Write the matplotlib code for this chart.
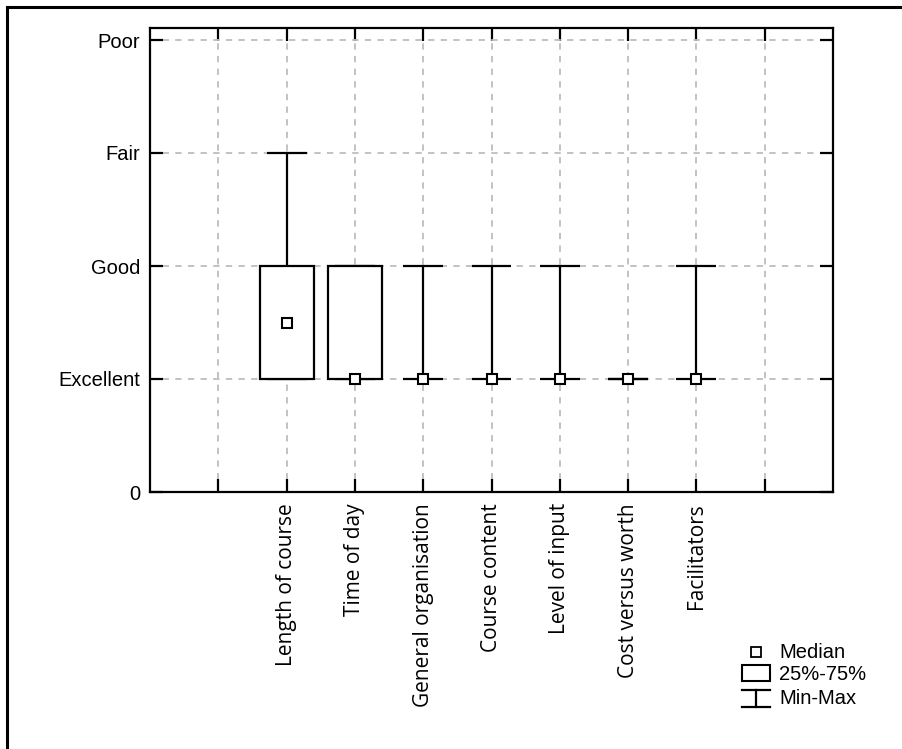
import matplotlib
matplotlib.use("Agg")
import matplotlib.pyplot as plt
from matplotlib.patches import Rectangle
from matplotlib.lines import Line2D

# Course evaluation ratings (1 = Excellent ... 4 = Poor)
categories = ["Length of course", "Time of day", "General organisation",
              "Course content", "Level of input", "Cost versus worth",
              "Facilitators"]
positions = [2, 3, 4, 5, 6, 7, 8]
medians = [1.5, 1, 1, 1, 1, 1, 1]
q1 = [1, 1, 1, 1, 1, 1, 1]
q3 = [2, 2, 1, 1, 1, 1, 1]
mins = [1, 1, 1, 1, 1, 1, 1]
maxs = [3, 2, 2, 2, 2, 1, 2]

ytick_vals = [0, 1, 2, 3, 4]
ytick_labels = ["0", "Excellent", "Good", "Fair", "Poor"]

W, H = 903, 749
fig = plt.figure(figsize=(W / 100, H / 100), dpi=100)
ax = fig.add_axes([150 / W, 1 - 492 / H, 683 / W, 464 / H])

ax.set_xlim(0, 10)
ax.set_ylim(0, 464 / 113)

box_w = 0.79
cap_w = 0.585
lw = 1.6
for x, med, lo, hi, mn, mx in zip(positions, medians, q1, q3, mins, maxs):
    # whiskers and caps
    ax.plot([x, x], [hi, mx], color="black", lw=lw, zorder=3)
    ax.plot([x, x], [mn, lo], color="black", lw=lw, zorder=3)
    for y in (mn, mx):
        ax.plot([x - cap_w / 2, x + cap_w / 2], [y, y], color="black",
                lw=lw, zorder=3, solid_capstyle="butt")
    if hi > lo:
        ax.add_patch(Rectangle((x - box_w / 2, lo), box_w, hi - lo,
                               facecolor="white", edgecolor="black",
                               lw=lw, zorder=4))
    ax.plot(x, med, marker="s", markersize=7.5, markerfacecolor="white",
            markeredgecolor="black", markeredgewidth=1.5, zorder=5)

ax.set_yticks(ytick_vals)
ax.set_yticklabels(ytick_labels, fontsize=14.5, family="Liberation Sans")
ax.set_xticks(range(1, 10))
ax.set_xticklabels([""] + categories + [""], rotation=90, fontsize=15,
                   family="Open Sans", va="top")
ax.tick_params(axis="both", direction="in", length=9.5, width=1.6,
               top=True, right=True, color="black")
ax.tick_params(axis="y", pad=7)
ax.tick_params(axis="x", pad=8)
ax.grid(True, color="#bdbdbd", linestyle=(0, (3.5, 3.5)), linewidth=1.3,
        zorder=0)
ax.set_axisbelow(True)
for sp in ax.spines.values():
    sp.set_linewidth(1.6)

# legend drawn in pixel space, lower right
def px(x, y):
    return x / W, 1 - y / H

leg_font = dict(fontsize=14.5, family="Liberation Sans", va="center", ha="left")
fig.add_artist(Line2D(*zip(px(756, 652)), marker="s", markersize=7,
                      markerfacecolor="white", markeredgecolor="black",
                      markeredgewidth=1.3, linestyle="none"))
fig.add_artist(Rectangle(px(742, 681), 28 / W, 16 / H, facecolor="white",
                         edgecolor="black", lw=1.5))
for yy in (690, 707):
    fig.add_artist(Line2D([742 / W, 770 / W], [1 - yy / H] * 2,
                          color="black", lw=1.6))
fig.add_artist(Line2D([756 / W] * 2, [1 - 690 / H, 1 - 707 / H],
                      color="black", lw=1.6))
fig.text(*px(779, 652), "Median", **leg_font)
fig.text(*px(779, 674), "25%-75%", **leg_font)
fig.text(*px(779, 699), "Min-Max", **leg_font)

# frame along the top and left edge of the figure
fig.add_artist(Line2D([7 / W, 7 / W], [0, 1 - 7 / H], color="black", lw=2.2))
fig.add_artist(Line2D([7 / W, 1], [1 - 7 / H] * 2, color="black", lw=2.2))

fig.savefig("out.png", dpi=100)
